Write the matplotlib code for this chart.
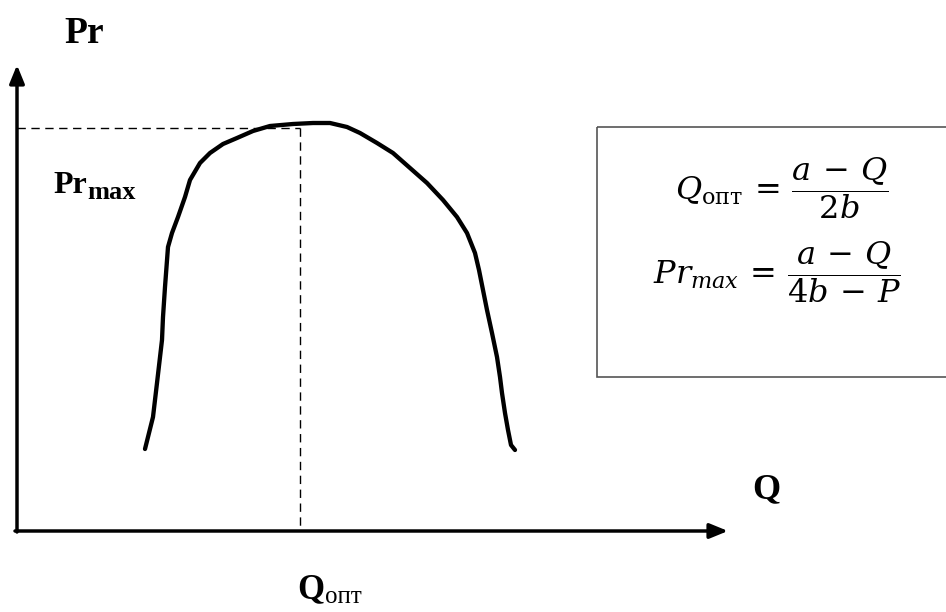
import matplotlib.pyplot as plt

# кривая прибыли (координаты, в пикселях)
curve_x = [145, 148, 153, 157, 162, 163, 165, 168, 172, 178, 185, 190, 200, 210, 223, 237,
           253, 270, 293, 313, 330, 347, 360, 377, 393, 410, 427, 443, 457, 467, 475, 479,
           483, 487, 492, 497, 500, 502, 505, 508, 511, 515]
curve_y = [449, 437, 417, 383, 340, 317, 287, 247, 233, 217, 197, 180, 163, 153, 144, 138,
           131, 126, 124, 123, 123, 127, 133, 143, 153, 168, 183, 200, 217, 233, 253, 270,
           290, 310, 333, 357, 377, 393, 413, 430, 445, 450]

origin = (17, 531)
x_tip = 728
y_tip = 65
q_opt = 300
pr_max = 128

box = (597, 127, 360, 250)  # x, y, w, h

plt.rcParams['mathtext.fontset'] = 'dejavuserif'

fig = plt.figure(figsize=(9.46, 6.12), dpi=100)
ax = fig.add_axes([0, 0, 1, 1])
ax.set_xlim(0, 946)
ax.set_ylim(612, 0)
ax.axis('off')

# оси
arrow = dict(arrowstyle='-|>,head_length=1.1,head_width=0.45',
             lw=2.5, color='black', shrinkA=0, shrinkB=0)
ax.annotate('', xy=(origin[0], y_tip), xytext=(origin[0], origin[1] + 1), arrowprops=arrow)
ax.annotate('', xy=(x_tip, origin[1]), xytext=(origin[0] - 2, origin[1]), arrowprops=arrow)

# пунктир
ax.plot([origin[0], q_opt], [pr_max, pr_max], ls=(0, (6, 4)), lw=1.0, color='black')
ax.plot([q_opt, q_opt], [pr_max, origin[1]], ls=(0, (6, 4)), lw=1.0, color='black')

ax.plot(curve_x, curve_y, lw=3.1, color='black', solid_capstyle='round', solid_joinstyle='round')

# подписи
serif = 'Liberation Serif'
ax.text(64, 43, 'Pr', ha='left', va='baseline', family=serif, fontweight='bold', fontsize=27)
ax.text(53, 193, 'Pr', ha='left', va='baseline', family=serif, fontweight='bold', fontsize=23)
ax.text(87, 199, 'max', ha='left', va='baseline', family=serif, fontweight='bold', fontsize=19)
ax.text(752, 498, 'Q', ha='left', va='baseline', family=serif, fontweight='bold', fontsize=26)
ax.text(297, 598, 'Q', ha='left', va='baseline', family=serif, fontweight='bold', fontsize=25)
ax.text(325, 603, 'опт', ha='left', va='baseline', family=serif, fontsize=18)

# формулы
ax.add_patch(plt.Rectangle((box[0], box[1]), box[2], box[3], fill=False,
                           edgecolor='#555555', lw=1.2))
ax.text(675, 188, r'$Q_{\mathrm{опт}}\,=\,\dfrac{a\,-\,Q}{2b}$', ha='left', va='center', fontsize=23)
ax.text(653, 272, r'$Pr_{max}\,=\,\dfrac{a\,-\,Q}{4b\,-\,P}$', ha='left', va='center', fontsize=23)

plt.savefig('out.png', dpi=100)
